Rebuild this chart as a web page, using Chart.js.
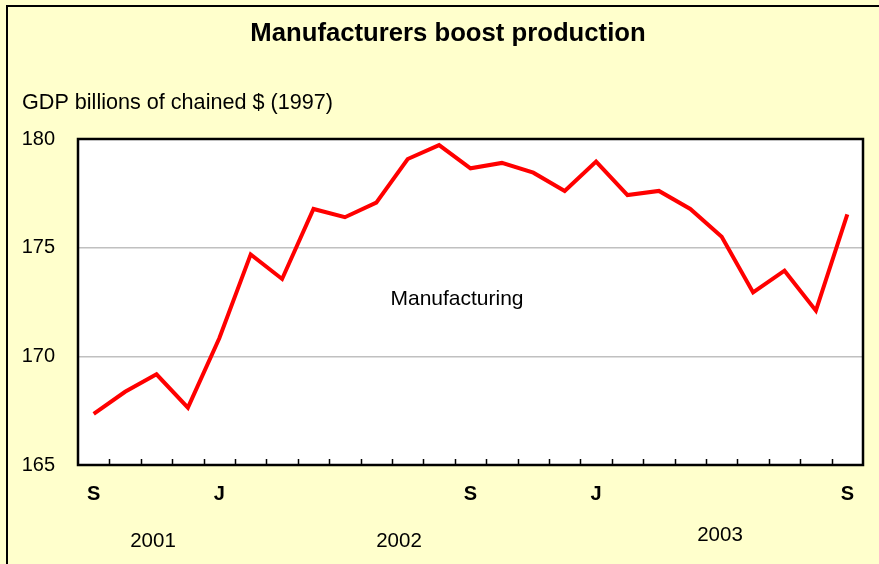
<!DOCTYPE html>
<html>
<head>
<meta charset="utf-8">
<script src="https://cdn.jsdelivr.net/npm/chart.js@4.4.1/dist/chart.umd.min.js"></script>
<style>
html,body{margin:0;padding:0;background:#FFFFCC;}
#wrap{width:879px;height:564px;position:relative;}
</style>
</head>
<body>
<div id="wrap"><canvas id="c" width="879" height="564"></canvas></div>
<script>
// Monthly, Sep 2001 .. Sep 2003
const months = ["S","O","N","D","J","F","M","A","M","J","J","A","S","O","N","D","J","F","M","A","M","J","J","A","S"];
const shownMonthLabels = ["S","","","","J","","","","","","","","S","","","","J","","","","","","","","S"];
const manufacturing = [167.35,168.37,169.17,167.64,170.83,174.69,173.56,176.78,176.40,177.07,179.08,179.72,178.65,178.90,178.45,177.61,178.96,177.42,177.61,176.78,175.50,172.94,173.94,172.10,176.53];
const yTicks = [165,170,175,180];
const years = ["2001","2002","2003"];
const titleText = "Manufacturers boost production";
const yAxisTitle = "GDP billions of chained $ (1997)";
const seriesLabel = "Manufacturing";

const FONT = "'Liberation Sans', Arial, sans-serif";

const decor = {
  id: 'decor',
  beforeDraw(chart) {
    const ctx = chart.ctx;
    ctx.save();
    ctx.fillStyle = '#FFFFCC';
    ctx.fillRect(0, 0, chart.width, chart.height);
    ctx.strokeStyle = '#000';
    ctx.lineWidth = 2;
    ctx.beginPath();
    ctx.moveTo(7, chart.height + 2);
    ctx.lineTo(7, 6);
    ctx.lineTo(chart.width + 2, 6);
    ctx.stroke();
    const a = chart.chartArea;
    ctx.fillStyle = '#FFFFFF';
    ctx.fillRect(a.left, a.top, a.right - a.left, a.bottom - a.top);
    ctx.restore();
  },
  afterDatasetsDraw(chart) {
    const ctx = chart.ctx;
    const a = chart.chartArea;
    const xs = chart.scales.x;
    ctx.save();
    ctx.strokeStyle = '#000';
    ctx.lineWidth = 1.5;
    ctx.beginPath();
    for (let i = 1; i < months.length; i++) {
      const x = Math.round((xs.getPixelForValue(i - 1) + xs.getPixelForValue(i)) / 2) + 0.5;
      ctx.moveTo(x, a.bottom);
      ctx.lineTo(x, a.bottom - 6);
    }
    ctx.stroke();
    ctx.lineWidth = 2.5;
    ctx.strokeRect(a.left, a.top, a.right - a.left, a.bottom - a.top);
    ctx.fillStyle = '#000';
    ctx.textBaseline = 'middle';
    ctx.textAlign = 'center';
    ctx.font = 'bold 25.7px ' + FONT;
    ctx.fillText(titleText, 448, 34);
    ctx.textAlign = 'left';
    ctx.font = '21.6px ' + FONT;
    ctx.fillText(yAxisTitle, 22, 103);
    ctx.textAlign = 'center';
    ctx.font = '21px ' + FONT;
    ctx.fillText(seriesLabel, 457, 299);
    ctx.font = '20.5px ' + FONT;
    ctx.fillText(years[0], 153, 541);
    ctx.fillText(years[1], 399, 541);
    ctx.fillText(years[2], 720, 535);
    ctx.restore();
  }
};

new Chart(document.getElementById('c'), {
  type: 'line',
  data: {
    labels: months,
    datasets: [{
      label: seriesLabel,
      data: manufacturing,
      borderColor: '#FF0000',
      borderWidth: 4,
      pointRadius: 0,
      tension: 0,
      fill: false
    }]
  },
  options: {
    responsive: false,
    animation: false,
    devicePixelRatio: 1,
    layout: { padding: { left: 0, right: 16, top: 139, bottom: 0 } },
    plugins: { legend: { display: false }, title: { display: false }, tooltip: { enabled: false } },
    scales: {
      x: {
        type: 'category',
        offset: true,
        afterFit(s) { s.height = 99; },
        grid: { display: false, drawTicks: false },
        border: { display: false },
        ticks: {
          autoSkip: false,
          maxRotation: 0,
          padding: 17,
          color: '#000',
          font: { family: FONT, size: 20, weight: 'bold' },
          callback: (v, i) => shownMonthLabels[i]
        }
      },
      y: {
        min: 165,
        max: 180,
        afterFit(s) { s.width = 78; },
        afterBuildTicks(s) { s.ticks = yTicks.map(v => ({ value: v })); },
        grid: {
          drawTicks: false,
          lineWidth: 1.5,
          color: (c) => (c.tick && (c.tick.value === 170 || c.tick.value === 175)) ? '#C0C0C0' : 'rgba(0,0,0,0)'
        },
        border: { display: false },
        ticks: {
          padding: 23,
          color: '#000',
          font: { family: FONT, size: 20 }
        }
      }
    }
  },
  plugins: [decor]
});
</script>
</body>
</html>
